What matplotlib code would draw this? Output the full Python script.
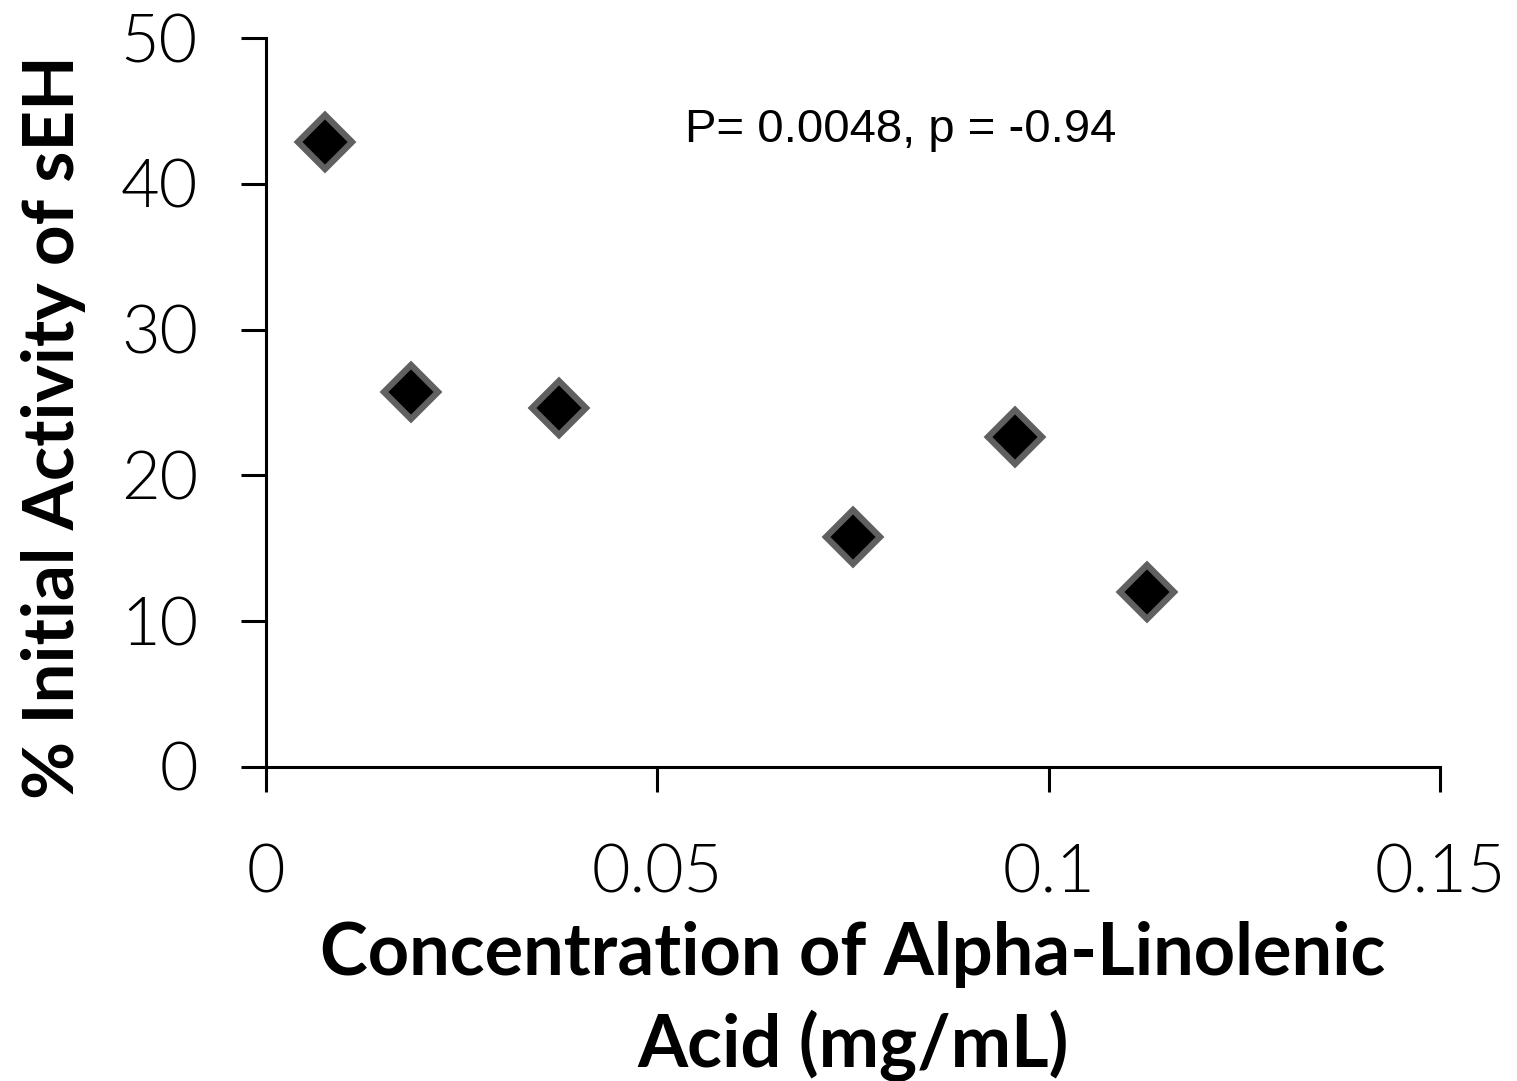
import matplotlib
matplotlib.use('Agg')
import matplotlib.pyplot as plt

# data
concentration = [0.0075, 0.0185, 0.0375, 0.075, 0.0957, 0.1125]
activity = [42.9, 25.7, 24.6, 15.8, 22.6, 12.0]

x_ticks = [0, 0.05, 0.1, 0.15]
x_tick_labels = ['0', '0.05', '0.1', '0.15']
y_ticks = [0, 10, 20, 30, 40, 50]

fig = plt.figure(figsize=(15.17, 10.81), dpi=100)
ax = fig.add_axes([0.1753, 0.2905, 0.774, 0.6743])

ax.plot(concentration, activity, linestyle='none', marker='D',
        markersize=28, markerfacecolor='black', markeredgecolor='#606060',
        markeredgewidth=4.5, clip_on=False)

ax.set_xlim(0, 0.15)
ax.set_ylim(0, 50)
ax.set_xticks(x_ticks)
ax.set_xticklabels(x_tick_labels)
ax.set_yticks(y_ticks)

for side in ['top', 'right']:
    ax.spines[side].set_visible(False)
for side in ['left', 'bottom']:
    ax.spines[side].set_linewidth(2.2)
    ax.spines[side].set_color('black')

ax.tick_params(axis='both', direction='out', length=18, width=2.2,
               labelsize=48)
ax.tick_params(axis='y', pad=31)
ax.tick_params(axis='x', pad=38)
for lbl in ax.get_xticklabels() + ax.get_yticklabels():
    lbl.set_family('Lato')
    lbl.set_fontweight(300)

ax.set_xlabel('Concentration of Alpha-Linolenic\nAcid (mg/mL)',
              fontsize=52, fontweight='bold', family='Lato', labelpad=12,
              linespacing=1.38)
ax.set_ylabel('% Initial Activity of sEH', fontsize=51, fontweight='bold',
              family='Lato')
ax.yaxis.set_label_coords(-0.153, 0.466)

ax.text(0.0536, 43.7, 'P= 0.0048, p = -0.94', fontsize=34,
        family='Liberation Sans', ha='left', va='center')

fig.savefig('out.png', dpi=100)
